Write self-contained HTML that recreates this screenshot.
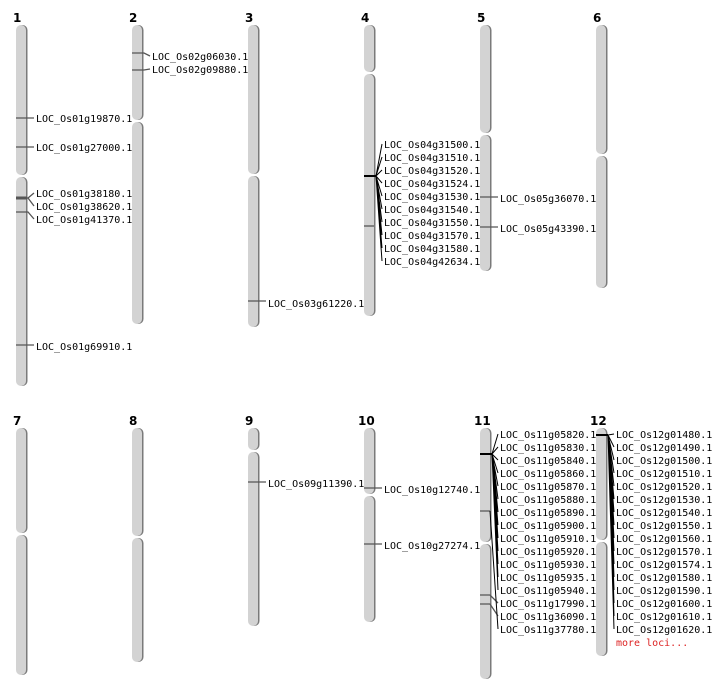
<!DOCTYPE html>
<html><head><meta charset="utf-8"><style>
html,body{margin:0;padding:0;background:#fff;}
svg{display:block;}
text{font-family:"DejaVu Sans Mono","Liberation Mono",monospace;font-size:10px;fill:#000;}
.n{font-family:"DejaVu Sans","Liberation Sans",sans-serif;font-weight:bold;font-size:12px;}
.a{fill:#d3d3d3;}
.s{fill:#7a7a7a;}
.m{stroke:#555;stroke-width:1.3;fill:none;}
.k{stroke:#000;stroke-width:1;fill:none;}
.kb{stroke:#000;stroke-width:2;fill:none;}
</style></head><body>
<svg width="712" height="700" viewBox="0 0 712 700" xmlns="http://www.w3.org/2000/svg">
<!-- chromosome labels -->
<text class="n" x="13" y="22">1</text><text class="n" x="129" y="22">2</text><text class="n" x="245" y="22">3</text>
<text class="n" x="361" y="22">4</text><text class="n" x="477" y="22">5</text><text class="n" x="593" y="22">6</text>
<text class="n" x="13" y="425">7</text><text class="n" x="129" y="425">8</text><text class="n" x="245" y="425">9</text>
<text class="n" x="358" y="425">10</text><text class="n" x="474" y="425">11</text><text class="n" x="590" y="425">12</text>

<!-- chromosomes: shadow then arm -->
<g>
<!-- 1 -->
<rect class="s" x="17.5" y="25" width="10" height="150" rx="5"/><rect class="a" x="16" y="25" width="10" height="150" rx="5"/>
<rect class="s" x="17.5" y="177" width="10" height="209" rx="5"/><rect class="a" x="16" y="177" width="10" height="209" rx="5"/>
<!-- 2 -->
<rect class="s" x="133.5" y="25" width="10" height="95" rx="5"/><rect class="a" x="132" y="25" width="10" height="95" rx="5"/>
<rect class="s" x="133.5" y="122" width="10" height="202" rx="5"/><rect class="a" x="132" y="122" width="10" height="202" rx="5"/>
<!-- 3 -->
<rect class="s" x="249.5" y="25" width="10" height="149" rx="5"/><rect class="a" x="248" y="25" width="10" height="149" rx="5"/>
<rect class="s" x="249.5" y="176" width="10" height="151" rx="5"/><rect class="a" x="248" y="176" width="10" height="151" rx="5"/>
<!-- 4 -->
<rect class="s" x="365.5" y="25" width="10" height="47" rx="5"/><rect class="a" x="364" y="25" width="10" height="47" rx="5"/>
<rect class="s" x="365.5" y="74" width="10" height="242" rx="5"/><rect class="a" x="364" y="74" width="10" height="242" rx="5"/>
<!-- 5 -->
<rect class="s" x="481.5" y="25" width="10" height="108" rx="5"/><rect class="a" x="480" y="25" width="10" height="108" rx="5"/>
<rect class="s" x="481.5" y="135" width="10" height="136" rx="5"/><rect class="a" x="480" y="135" width="10" height="136" rx="5"/>
<!-- 6 -->
<rect class="s" x="597.5" y="25" width="10" height="129" rx="5"/><rect class="a" x="596" y="25" width="10" height="129" rx="5"/>
<rect class="s" x="597.5" y="156" width="10" height="132" rx="5"/><rect class="a" x="596" y="156" width="10" height="132" rx="5"/>
<!-- 7 -->
<rect class="s" x="17.5" y="428" width="10" height="105" rx="5"/><rect class="a" x="16" y="428" width="10" height="105" rx="5"/>
<rect class="s" x="17.5" y="535" width="10" height="140" rx="5"/><rect class="a" x="16" y="535" width="10" height="140" rx="5"/>
<!-- 8 -->
<rect class="s" x="133.5" y="428" width="10" height="108" rx="5"/><rect class="a" x="132" y="428" width="10" height="108" rx="5"/>
<rect class="s" x="133.5" y="538" width="10" height="124" rx="5"/><rect class="a" x="132" y="538" width="10" height="124" rx="5"/>
<!-- 9 -->
<rect class="s" x="249.5" y="428" width="10" height="22" rx="5"/><rect class="a" x="248" y="428" width="10" height="22" rx="5"/>
<rect class="s" x="249.5" y="452" width="10" height="174" rx="5"/><rect class="a" x="248" y="452" width="10" height="174" rx="5"/>
<!-- 10 -->
<rect class="s" x="365.5" y="428" width="10" height="66" rx="5"/><rect class="a" x="364" y="428" width="10" height="66" rx="5"/>
<rect class="s" x="365.5" y="496" width="10" height="126" rx="5"/><rect class="a" x="364" y="496" width="10" height="126" rx="5"/>
<!-- 11 -->
<rect class="s" x="481.5" y="428" width="10" height="114" rx="5"/><rect class="a" x="480" y="428" width="10" height="114" rx="5"/>
<rect class="s" x="481.5" y="544" width="10" height="135" rx="5"/><rect class="a" x="480" y="544" width="10" height="135" rx="5"/>
<!-- 12 -->
<rect class="s" x="597.5" y="428" width="10" height="112" rx="5"/><rect class="a" x="596" y="428" width="10" height="112" rx="5"/>
<rect class="s" x="597.5" y="542" width="10" height="114" rx="5"/><rect class="a" x="596" y="542" width="10" height="114" rx="5"/>
</g>

<!-- chr1 markers -->
<path class="m" d="M16 118H34M16 147H34M16 345H34"/>
<path class="m" d="M16 198H28L34 193M28 198L34 206M16 212H28L34 219"/>
<rect x="16" y="196.5" width="11" height="3" fill="#555"/>
<text x="36" y="122">LOC_Os01g19870.1</text>
<text x="36" y="151">LOC_Os01g27000.1</text>
<text x="36" y="197">LOC_Os01g38180.1</text>
<text x="36" y="210">LOC_Os01g38620.1</text>
<text x="36" y="223">LOC_Os01g41370.1</text>
<text x="36" y="350">LOC_Os01g69910.1</text>

<!-- chr2 -->
<path class="m" d="M132 53H144L150 56M132 70H144L150 69"/>
<text x="152" y="60">LOC_Os02g06030.1</text>
<text x="152" y="73">LOC_Os02g09880.1</text>

<!-- chr3 -->
<path class="m" d="M248 301H266"/>
<text x="268" y="307">LOC_Os03g61220.1</text>

<!-- chr4 -->
<path class="kb" d="M364 176H376"/>
<path class="k" d="M376 176L382 144M376 176L382 157M376 176L382 170M376 176L382 183M376 176L382 196M376 176L382 209M376 176L382 222M376 176L382 235M376 176L382 248M376 176L382 261"/>
<path class="m" d="M364 226H374"/>
<text x="384" y="148">LOC_Os04g31500.1</text>
<text x="384" y="161">LOC_Os04g31510.1</text>
<text x="384" y="174">LOC_Os04g31520.1</text>
<text x="384" y="187">LOC_Os04g31524.1</text>
<text x="384" y="200">LOC_Os04g31530.1</text>
<text x="384" y="213">LOC_Os04g31540.1</text>
<text x="384" y="226">LOC_Os04g31550.1</text>
<text x="384" y="239">LOC_Os04g31570.1</text>
<text x="384" y="252">LOC_Os04g31580.1</text>
<text x="384" y="265">LOC_Os04g42634.1</text>

<!-- chr5 -->
<path class="m" d="M480 197H498M480 227H498"/>
<text x="500" y="202">LOC_Os05g36070.1</text>
<text x="500" y="232">LOC_Os05g43390.1</text>

<!-- chr9 -->
<path class="m" d="M248 482H266"/>
<text x="268" y="487">LOC_Os09g11390.1</text>
<!-- chr10 -->
<path class="m" d="M364 488H382M364 544H382"/>
<text x="384" y="493">LOC_Os10g12740.1</text>
<text x="384" y="549">LOC_Os10g27274.1</text>

<!-- chr11 -->
<path class="kb" d="M480 454H492"/>
<path class="k" d="M492 454L498 434M492 454L498 447M492 454L498 460M492 454L498 473M492 454L498 486M492 454L498 499M492 454L498 512M492 454L498 525M492 454L498 538M492 454L498 551M492 454L498 564M492 454L498 577M492 454L498 590"/>
<path class="m" d="M480 511H490M480 595H490L498 603M480 604H490L498 616"/>
<path class="k" d="M490 511L498 629"/>
<text x="500" y="438">LOC_Os11g05820.1</text>
<text x="500" y="451">LOC_Os11g05830.1</text>
<text x="500" y="464">LOC_Os11g05840.1</text>
<text x="500" y="477">LOC_Os11g05860.1</text>
<text x="500" y="490">LOC_Os11g05870.1</text>
<text x="500" y="503">LOC_Os11g05880.1</text>
<text x="500" y="516">LOC_Os11g05890.1</text>
<text x="500" y="529">LOC_Os11g05900.1</text>
<text x="500" y="542">LOC_Os11g05910.1</text>
<text x="500" y="555">LOC_Os11g05920.1</text>
<text x="500" y="568">LOC_Os11g05930.1</text>
<text x="500" y="581">LOC_Os11g05935.1</text>
<text x="500" y="594">LOC_Os11g05940.1</text>
<text x="500" y="607">LOC_Os11g17990.1</text>
<text x="500" y="620">LOC_Os11g36090.1</text>
<text x="500" y="633">LOC_Os11g37780.1</text>

<!-- chr12 -->
<path class="kb" d="M596 435H608"/>
<path class="k" d="M608 435L614 434M608 435L614 447M608 435L614 460M608 435L614 473M608 435L614 486M608 435L614 499M608 435L614 512M608 435L614 525M608 435L614 538M608 435L614 551M608 435L614 564M608 435L614 577M608 435L614 590M608 435L614 603M608 435L614 616M608 435L614 629"/>
<text x="616" y="438">LOC_Os12g01480.1</text>
<text x="616" y="451">LOC_Os12g01490.1</text>
<text x="616" y="464">LOC_Os12g01500.1</text>
<text x="616" y="477">LOC_Os12g01510.1</text>
<text x="616" y="490">LOC_Os12g01520.1</text>
<text x="616" y="503">LOC_Os12g01530.1</text>
<text x="616" y="516">LOC_Os12g01540.1</text>
<text x="616" y="529">LOC_Os12g01550.1</text>
<text x="616" y="542">LOC_Os12g01560.1</text>
<text x="616" y="555">LOC_Os12g01570.1</text>
<text x="616" y="568">LOC_Os12g01574.1</text>
<text x="616" y="581">LOC_Os12g01580.1</text>
<text x="616" y="594">LOC_Os12g01590.1</text>
<text x="616" y="607">LOC_Os12g01600.1</text>
<text x="616" y="620">LOC_Os12g01610.1</text>
<text x="616" y="633">LOC_Os12g01620.1</text>
<text x="616" y="646" style="fill:#d22">more loci...</text>
</svg>
</body></html>
